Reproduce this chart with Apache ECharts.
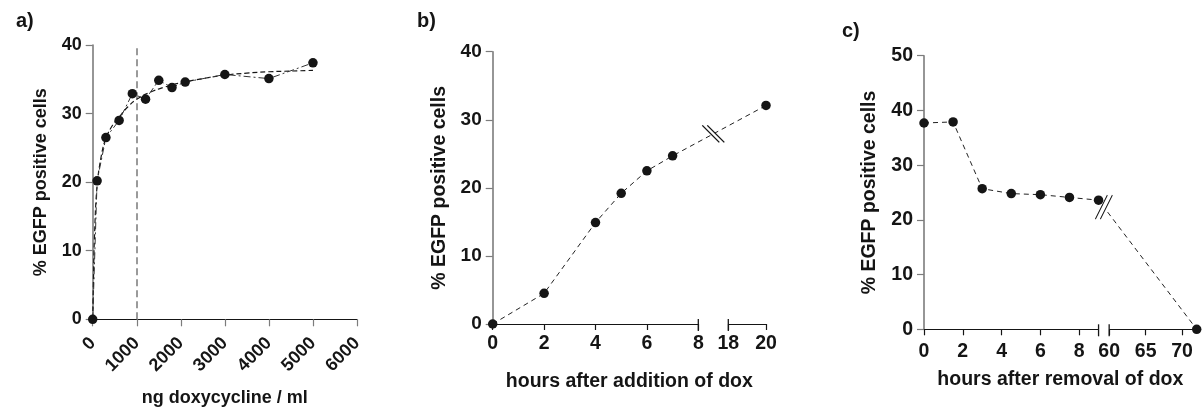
<!DOCTYPE html>
<html><head><meta charset="utf-8">
<script src="https://cdn.jsdelivr.net/npm/echarts@6/dist/echarts.min.js"></script>
<style>html,body{margin:0;padding:0;background:#fff}#c{width:1203px;height:410px}</style>
</head><body><div id="c"></div>
<script>
// ---------- Panel a: dose response ----------
const doseA = [0, 100, 300, 600, 900, 1200, 1500, 1800, 2100, 3000, 4000, 5000];
const egfpA = [0, 20.2, 26.5, 29.0, 32.9, 32.1, 34.85, 33.8, 34.6, 35.7, 35.1, 37.4];
const fitDoseA = [0, 15, 40, 100, 200, 300, 450, 600, 800, 1000, 1300, 1600, 2000, 2500, 3000, 3500, 4000, 4500, 5000];
const fitEgfpA = [0, 5, 12, 19.5, 24, 26.4, 28.3, 29.5, 31, 32.1, 33.1, 33.8, 34.5, 35.1, 35.6, 35.9, 36.1, 36.2, 36.3];
const xTicksA = [0, 1000, 2000, 3000, 4000, 5000, 6000];
const yTicksA = [0, 10, 20, 30, 40];
const refDoseA = 1000;

// ---------- Panel b: time after addition ----------
const hoursB = [0, 2, 4, 5, 6, 7, 20];
const egfpB = [0, 4.5, 14.9, 19.2, 22.5, 24.7, 32.1];
const xTicksB = [0, 2, 4, 6, 8, 18, 20];
const yTicksB = [0, 10, 20, 30, 40];

// ---------- Panel c: time after removal ----------
const hoursC = [0, 1.5, 3, 4.5, 6, 7.5, 9, 72];
const egfpC = [37.7, 37.9, 25.7, 24.8, 24.6, 24.1, 23.6, 0];
const xTicksC = [0, 2, 4, 6, 8, 60, 65, 70];
const yTicksC = [0, 10, 20, 30, 40, 50];

// ---------- broken-axis helper (piecewise linear scale) ----------
function brokenAxis(segs) {
  const toD = r => { for (const [r0, r1, d0, d1] of segs) if (r >= r0 - 1e-9 && r <= r1 + 1e-9) return d0 + (r - r0) * (d1 - d0) / (r1 - r0); return NaN; };
  const toR = d => { for (const [r0, r1, d0, d1] of segs) if (d >= d0 - 1e-6 && d <= d1 + 1e-6) return r0 + (d - d0) * (r1 - r0) / (d1 - d0); return NaN; };
  return { toD, toR, segs };
}
const axB = brokenAxis([[0, 8, 0, 8], [18, 20, 9.167, 10.634]]);
const axC = brokenAxis([[0, 9, 0, 9], [60, 72, 9.547, 14.06]]);

const FONT = 'Liberation Sans, Arial, Helvetica, sans-serif';
const INK = '#151515';
const GREY_AX = '#7c7c7c';

function breakMark(ax, xs, ys, size, maskPath, linePath) {
  const s0 = ax.segs[0], s1 = ax.segs[1];
  const dm = (s0[3] + s1[2]) / 2;
  const pts = xs.map((h, i) => [ax.toD(h), ys[i]]);
  let y = 0;
  for (let i = 0; i < pts.length - 1; i++) {
    if (pts[i][0] <= dm && pts[i + 1][0] >= dm) {
      y = pts[i][1] + (dm - pts[i][0]) * (pts[i + 1][1] - pts[i][1]) / (pts[i + 1][0] - pts[i][0]);
    }
  }
  return [
    { coord: [dm, y], symbol: maskPath, symbolSize: size, itemStyle: { color: '#fff', borderWidth: 0 } },
    { coord: [dm, y], symbol: linePath, symbolSize: size, itemStyle: { color: 'transparent', borderColor: INK, borderWidth: 1.1 } }
  ];
}
function crossTicks(ax) {
  return [
    { coord: [ax.segs[0][3], 0], symbol: 'rect', symbolSize: [1.3, 12], symbolOffset: [0, 1], itemStyle: { color: INK } },
    { coord: [ax.segs[1][2], 0], symbol: 'rect', symbolSize: [1.3, 12], symbolOffset: [0, 1], itemStyle: { color: INK } }
  ];
}
function axisSegments(ax) {
  return ax.segs.map(s => [{ coord: [s[2], 0] }, { coord: [s[3], 0] }]);
}

function yAxisCfg(grid, max, name, fs, nfs, gap) {
  return {
    type: 'value', gridIndex: grid, min: 0, max: max, interval: 10,
    axisLine: { show: true, lineStyle: { color: GREY_AX, width: 1.6 } },
    axisTick: { show: true, length: 7, lineStyle: { color: GREY_AX, width: 1.2 } },
    axisLabel: { fontSize: fs, fontWeight: 'bold', color: INK, fontFamily: FONT, margin: 11 },
    splitLine: { show: false },
    name: name, nameLocation: 'middle', nameGap: gap,
    nameTextStyle: { fontSize: nfs, fontWeight: 'bold', color: INK, fontFamily: FONT }
  };
}
function brokenXAxis(grid, ax, ticks, allTicks, max, name, fs, nfs, gap, margin) {
  return {
    type: 'value', gridIndex: grid, min: 0, max: max,
    axisLine: { show: false },
    axisTick: { show: true, length: 6, customValues: allTicks.map(ax.toD), lineStyle: { color: INK, width: 1.2 } },
    axisLabel: {
      customValues: ticks.map(ax.toD), fontSize: fs, fontWeight: 'bold', color: INK, fontFamily: FONT, margin: margin,
      formatter: v => String(Math.round(ax.toR(v) * 10) / 10)
    },
    splitLine: { show: false },
    name: name, nameLocation: 'middle', nameGap: gap,
    nameTextStyle: { fontSize: nfs, fontWeight: 'bold', color: INK, fontFamily: FONT }
  };
}

const chart = echarts.init(document.getElementById('c'), null, { renderer: 'canvas' });
const option = {
  animation: false,
  backgroundColor: '#fff',
  title: [
    { text: 'a)', left: 11, top: 6, textStyle: { fontSize: 20, fontWeight: 'bold', color: INK, fontFamily: FONT } },
    { text: 'b)', left: 412, top: 6, textStyle: { fontSize: 20, fontWeight: 'bold', color: INK, fontFamily: FONT } },
    { text: 'c)', left: 837, top: 16, textStyle: { fontSize: 20, fontWeight: 'bold', color: INK, fontFamily: FONT } }
  ],
  grid: [
    { left: 92.7, top: 45, width: 264.3, height: 274.3, outerBoundsMode: 'none' },
    { left: 492.7, top: 51.7, width: 273.3, height: 272.3, outerBoundsMode: 'none' },
    { left: 924, top: 55.7, width: 272.7, height: 273.6, outerBoundsMode: 'none' }
  ],
  xAxis: [
    {
      type: 'value', gridIndex: 0, min: xTicksA[0], max: xTicksA[xTicksA.length - 1], interval: 1000,
      axisLine: { show: true, lineStyle: { color: INK, width: 1.2 } },
      axisTick: { show: true, length: 7, lineStyle: { color: GREY_AX, width: 1.2 } },
      axisLabel: { rotate: 45, fontSize: 18, fontWeight: 'bold', color: INK, fontFamily: FONT, margin: 21, formatter: v => String(v) },
      splitLine: { show: false },
      name: 'ng doxycycline / ml', nameLocation: 'middle', nameGap: 70,
      nameTextStyle: { fontSize: 18, fontWeight: 'bold', color: INK, fontFamily: FONT }
    },
    brokenXAxis(1, axB, xTicksB, xTicksB, axB.toD(20), 'hours after addition of dox', 19.5, 19.5, 48, 10),
    brokenXAxis(2, axC, xTicksC, [0, 2, 4, 6, 8, 60, 65, 70], axC.toD(72), 'hours after removal of dox', 19.5, 19.5, 40, 12)
  ],
  yAxis: [
    yAxisCfg(0, yTicksA[yTicksA.length - 1], '% EGFP positive cells', 18, 18, 43),
    yAxisCfg(1, yTicksB[yTicksB.length - 1], '% EGFP positive cells', 19, 19.5, 43),
    yAxisCfg(2, yTicksC[yTicksC.length - 1], '% EGFP positive cells', 19.5, 19.5, 44)
  ],
  series: [
    {
      type: 'line', xAxisIndex: 0, yAxisIndex: 0, smooth: 0.4, showSymbol: false, symbol: 'none',
      data: fitDoseA.map((d, i) => [d, fitEgfpA[i]]),
      lineStyle: { color: INK, width: 1.2, type: [5, 3] }, z: 3
    },
    {
      type: 'line', xAxisIndex: 0, yAxisIndex: 0, symbol: 'circle', symbolSize: 9.5,
      data: doseA.map((d, i) => [d, egfpA[i]]),
      itemStyle: { color: INK }, lineStyle: { color: '#333', width: 1, type: [7, 3, 2, 3] }, z: 4,
      markLine: {
        silent: true, symbol: ['none', 'none'], label: { show: false }, z: 2,
        lineStyle: { color: '#9a9a9a', width: 2, type: [7, 4] },
        data: [{ xAxis: refDoseA }]
      }
    },
    {
      type: 'line', xAxisIndex: 1, yAxisIndex: 1, symbol: 'circle', symbolSize: 9.5,
      data: hoursB.map((h, i) => [axB.toD(h), egfpB[i]]),
      itemStyle: { color: INK }, lineStyle: { color: '#222', width: 1, type: [5, 4] }, z: 4,
      markLine: {
        silent: true, symbol: ['none', 'none'], label: { show: false },
        lineStyle: { color: INK, width: 1.2, type: 'solid' },
        data: axisSegments(axB)
      },
      markPoint: {
        silent: true, label: { show: false },
        data: crossTicks(axB).concat(breakMark(axB, hoursB, egfpB, [22, 17],
          'path://M0,0 L17,17 L22,17 L5,0 Z', 'path://M0,0 L17,17 M5,0 L22,17'))
      }
    },
    {
      type: 'line', xAxisIndex: 2, yAxisIndex: 2, symbol: 'circle', symbolSize: 9.5,
      data: hoursC.map((h, i) => [axC.toD(h), egfpC[i]]),
      itemStyle: { color: INK }, lineStyle: { color: '#222', width: 1, type: [5, 4] }, z: 4,
      markLine: {
        silent: true, symbol: ['none', 'none'], label: { show: false },
        lineStyle: { color: INK, width: 1.2, type: 'solid' },
        data: axisSegments(axC)
      },
      markPoint: {
        silent: true, label: { show: false },
        data: crossTicks(axC).concat(breakMark(axC, hoursC, egfpC, [17, 24],
          'path://M12,0 L0,24 L5,24 L17,0 Z', 'path://M12,0 L0,24 M17,0 L5,24'))
      }
    }
  ]
};
chart.setOption(option);
</script></body></html>
